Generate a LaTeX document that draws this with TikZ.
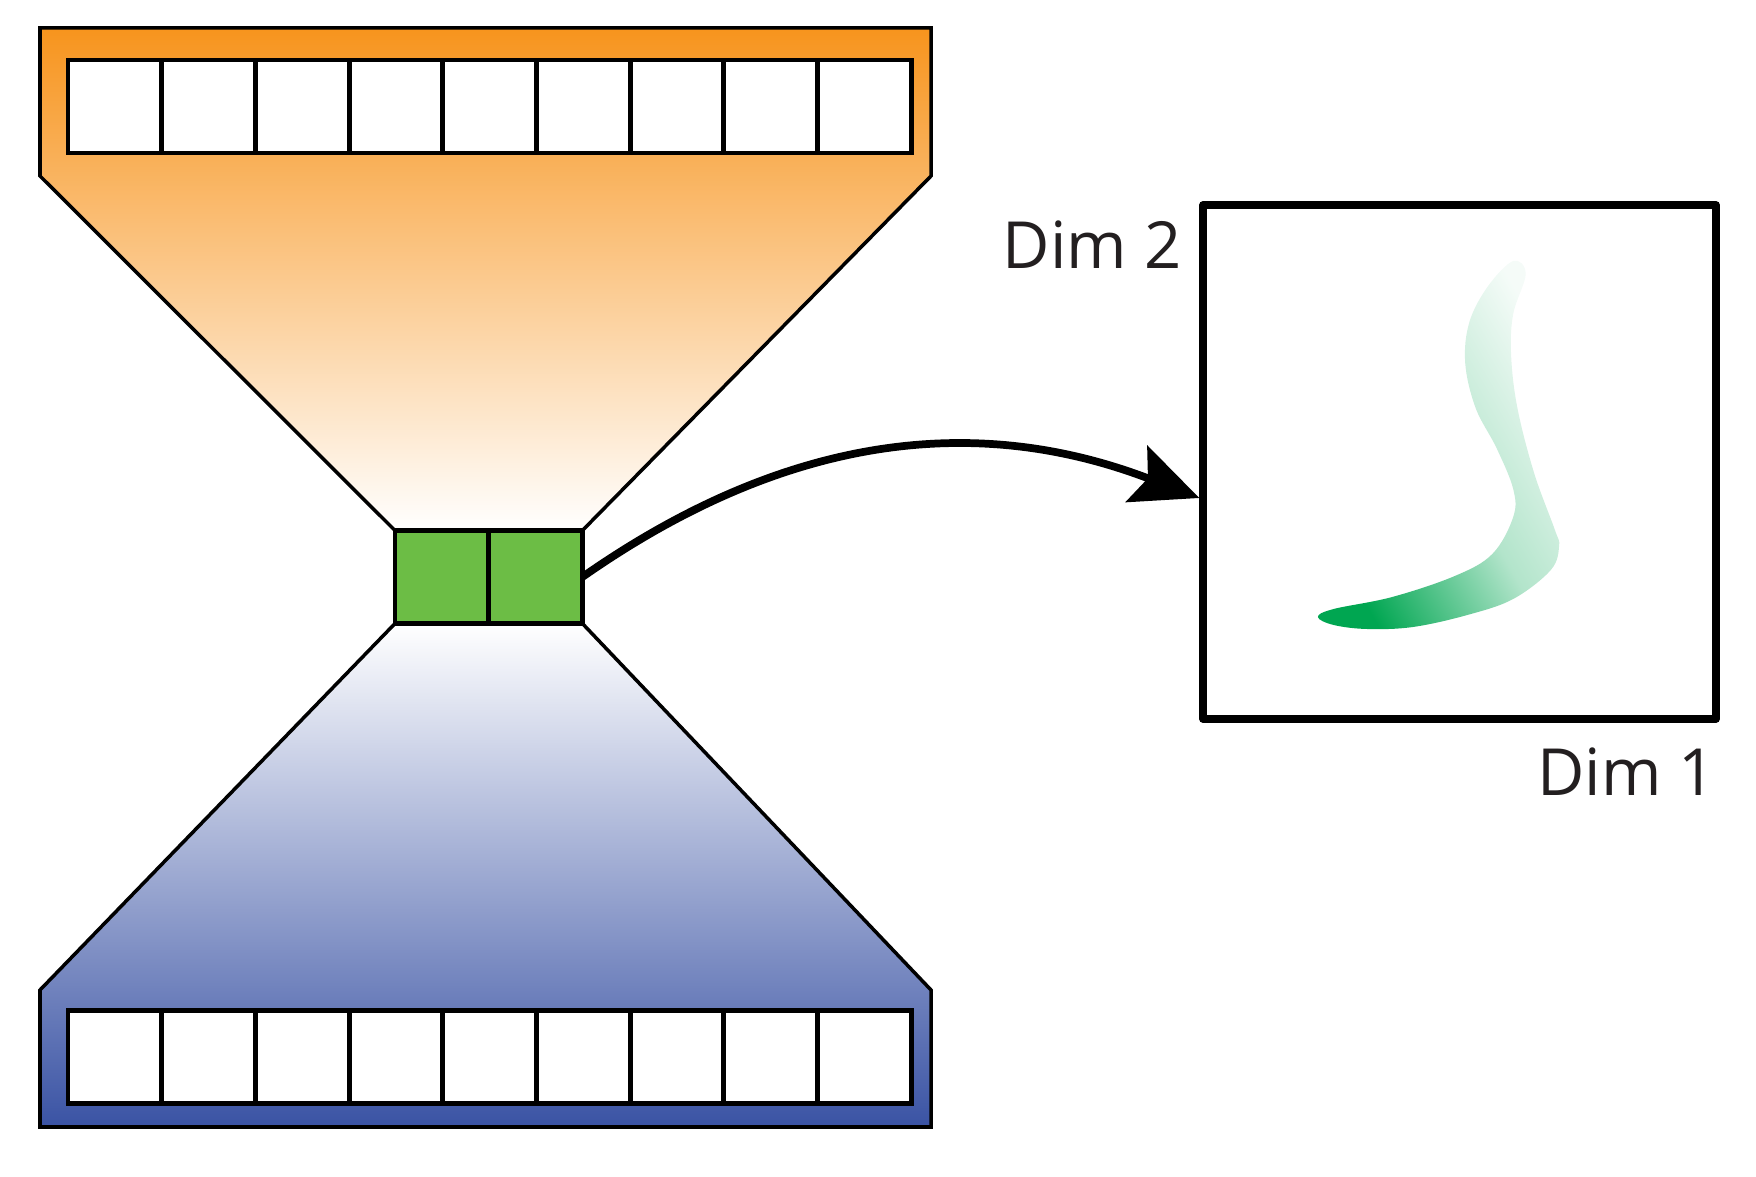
\documentclass[tikz,border=0pt]{standalone}
\usepackage{fontspec}
\usepackage{xcolor}
\usepackage{tikz}
\usetikzlibrary{arrows.meta}
\usetikzlibrary{backgrounds}
\usetikzlibrary{positioning}
\newfontfamily\dimfont{Open Sans}
\definecolor{topcol}{HTML}{F7941D}
\definecolor{botcol}{HTML}{3A53A4}
\definecolor{midcol}{HTML}{6CBD45}
\definecolor{blobcol}{HTML}{00A651}
\definecolor{inkcol}{HTML}{231F20}

\begin{document}
\begin{tikzpicture}[x=0.1mm,y=0.1mm,node distance=9.37mm,semithick]
 	\tikzstyle{cell}=[draw=black, fill=white, line width=1.4pt, minimum width=9.37mm, minimum height=9.3mm, outer sep=0pt, inner sep=0pt]
 	\tikzstyle{code}=[cell, fill=midcol]
 	\tikzstyle{dimlabel}=[inner sep=0pt, text=inkcol, font=\dimfont\fontsize{18.5}{22}\selectfont]
 	\tikzstyle{flow}=[line width=2.2pt, -{Stealth[length=6.7mm, width=6mm, inset=1.2mm]}]
 	\useasboundingbox (0,0) rectangle (1756,1176);
 		% input layer
 		\node[cell] (t1) at (114.85,1069.5) {};
 		\node[cell] (t2) [right of=t1] {};
 		\node[cell] (t3) [right of=t2] {};
 		\node[cell] (t4) [right of=t3] {};
 		\node[cell] (t5) [right of=t4] {};
 		\node[cell] (t6) [right of=t5] {};
 		\node[cell] (t7) [right of=t6] {};
 		\node[cell] (t8) [right of=t7] {};
 		\node[cell] (t9) [right of=t8] {};
 		% bottleneck
 		\node[code] (z1) at (441.85,599) {};
 		\node[code] (z2) [right of=z1] {};
 		% output layer
 		\node[cell] (b1) at (114.85,119) {};
 		\node[cell] (b2) [right of=b1] {};
 		\node[cell] (b3) [right of=b2] {};
 		\node[cell] (b4) [right of=b3] {};
 		\node[cell] (b5) [right of=b4] {};
 		\node[cell] (b6) [right of=b5] {};
 		\node[cell] (b7) [right of=b6] {};
 		\node[cell] (b8) [right of=b7] {};
 		\node[cell] (b9) [right of=b8] {};
 		\begin{scope}[on background layer]
 			\shadedraw[top color=topcol, bottom color=white, draw=black, line width=1pt]
 				(40,1148) -- (931,1148) -- (931,1000) -- (z2.north east) -- (z1.north west) -- (40,1000) -- cycle;
 			\shadedraw[top color=white, bottom color=botcol, draw=black, line width=1pt]
 				(z1.south west) -- (z2.south east) -- (931,186) -- (931,49) -- (40,49) -- (40,186) -- cycle;
 		\end{scope}
 		% latent space
 		\node[draw=black, line width=2.1pt, line join=round, minimum width=51.3mm, minimum height=51.4mm] (plane) at (1459.5,714) {};
 		\node[dimlabel, anchor=base east] (dimtwo) at ([xshift=-1.7mm,yshift=-6.7mm]plane.north west) {Dim 2};
 		\node[dimlabel, anchor=base east] (dimone) at ([xshift=-0.3mm,yshift=-7.3mm]plane.south east) {Dim 1};
 		\shade[top color=blobcol!4, bottom color=blobcol, middle color=blobcol!30, shading angle=-60]
 			plot[smooth cycle, tension=0.6] coordinates {(1317.9,559) (1333.7,567) (1392.2,579) (1454.8,600) (1492.3,622) (1513.2,659) (1513.2,687) (1496.5,728) (1475.6,768) (1465.2,813) (1469.4,854) (1488.1,890) (1513.2,915) (1525.7,902) (1513.2,862) (1511.1,821) (1517.4,768) (1534.1,703) (1554.9,646) (1559.1,630) (1550.8,606) (1513.2,577) (1467.3,561) (1413,549) (1367.1,547) (1333.7,551)};
 		\path (z2.east) edge[flow, out=35, in=159] ([yshift=-3.6mm]plane.west);
\end{tikzpicture}
\end{document}
